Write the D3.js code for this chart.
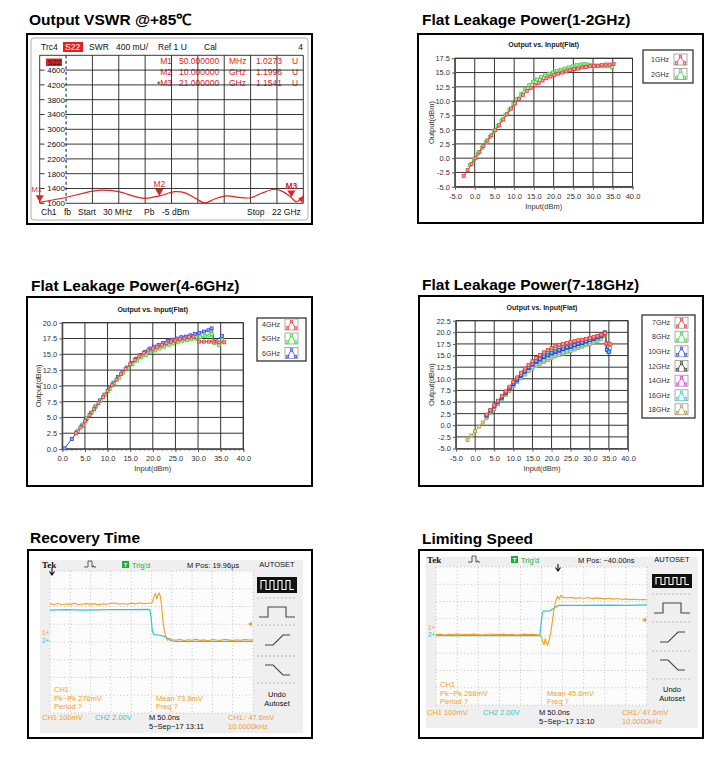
<!DOCTYPE html>
<html lang="en">
<head>
<meta charset="UTF-8">
<title>Limiter test report</title>
<script src="https://cdn.jsdelivr.net/npm/d3@7"></script>
<style>
  body { margin: 0; background: #fff; }
  svg { display: block; font-family: "Liberation Sans", Arial, sans-serif; }
  .title { font-weight: bold; font-size: 15.5px; fill: #000; }
  .box { fill: #fff; stroke: #000; stroke-width: 2; }
  .axis text { font-size: 7.5px; fill: #333; font-family: "Liberation Sans", Arial, sans-serif; }
  .axis path, .axis line { stroke: #555; }
  .grid line { stroke: #333; stroke-width: 1; }
</style>
</head>
<body>
<svg width="727" height="771"></svg>
<script>
// ---- VSWR (S22, +85C) ----
const vswrFreq = [0.03, 2.1, 4.9, 6.6, 8.0, 8.8, 10.0, 11.3, 12.1, 13.0, 13.8, 14.6, 15.6, 16.6, 17.6, 18.5, 19.6, 20.3, 21.0, 21.4, 21.7, 22.0];
const vswrVal = [1027, 1150, 1350, 1315, 1180, 1135, 1200, 1315, 1290, 1135, 1010, 1115, 1200, 1160, 1150, 1270, 1380, 1315, 1154, 1045, 1090, 1200];
const vswrTicks = [1000, 1400, 1800, 2200, 2600, 3000, 3400, 3800, 4200, 4600];
const markNames = ["M1", "M2", "M3"];
const markFreq = [0.03, 10, 21];
const markVal = [1027, 1200, 1154];
const markStim = ["50.000000", "10.000000", "21.000000"];
const markUnit = ["MHz", "GHz", "GHz"];
const markResp = ["1.0273", "1.1996", "1.1541"];

// ---- Flat leakage 1-2 GHz ----
const in1G = [-2.8, -1.8, -0.8, 0.2, 1.2, 2.2, 3.2, 4.2, 5.2, 6.2, 7.2, 8.2, 9.2, 10.2, 11.2, 12.2, 13.2, 14.2, 15.2, 16.2, 17.2, 18.2, 19.2, 20.2, 21.2, 22.2, 23.2, 24.2, 25.2, 26.2, 27.2, 28.2, 29.2, 30.2, 31.2, 32.2, 33.2, 34.2, 35.2];
const out1G = [-3.1, -2.1, -1.0, 0.0, 1.1, 2.1, 3.1, 4.0, 4.9, 5.8, 6.8, 7.7, 8.7, 9.6, 10.4, 11.1, 11.8, 12.3, 12.8, 13.2, 13.6, 14.0, 14.3, 14.6, 14.8, 15.0, 15.2, 15.4, 15.6, 15.7, 15.9, 16.0, 16.1, 16.2, 16.2, 16.3, 16.4, 16.4, 16.5];
const in2G = [-1.2, -0.2, 0.8, 1.8, 2.8, 3.8, 4.8, 5.8, 6.8, 7.8, 8.8, 9.8, 10.8, 11.8, 12.8, 13.8, 14.8, 15.8, 16.8, 17.8, 18.8, 19.8, 20.8, 21.8, 22.8, 23.8, 24.8, 25.8, 26.8, 27.8, 28.8, 29.8, 30.8, 31.8, 32.8, 33.8, 34.8];
const out2G = [-1.2, -0.2, 0.8, 1.8, 2.8, 3.7, 4.7, 5.6, 6.6, 7.6, 8.5, 9.5, 10.4, 11.3, 12.1, 12.8, 13.4, 13.8, 14.2, 14.5, 14.8, 15.0, 15.3, 15.5, 15.7, 15.9, 16.1, 16.3, 16.4, 16.5, 16.4, 16.3, 16.2, 16.2, 16.1, 16.1, 16.0];

// ---- Flat leakage 4-6 GHz ----
const in4G = [3, 4, 5, 6, 7, 8, 9, 10, 11, 12, 13, 14, 15, 16, 17, 18, 19, 20, 21, 22, 23, 24, 25, 26, 27, 28, 29, 30.2, 31.3, 32.4, 33.4, 34.7, 35.8];
const out4G = [2.5, 3.4, 4.4, 5.4, 6.3, 7.3, 8.2, 9.2, 10.1, 11.0, 11.9, 12.7, 13.4, 14.1, 14.7, 15.2, 15.6, 15.9, 16.2, 16.5, 16.8, 17.0, 17.2, 17.4, 17.5, 17.7, 17.8, 17.0, 17.0, 17.0, 17.0, 16.9, 16.9];
const in5G = [3.5, 4.5, 5.5, 6.5, 7.5, 8.5, 9.5, 10.5, 11.5, 12.5, 13.5, 14.5, 15.5, 16.5, 17.5, 18.5, 19.5, 20.5, 21.5, 22.5, 23.5, 24.5, 25.5, 26.5, 27.5, 28.5, 29.5, 30.5, 31.5, 32.5, 33.0, 33.6, 34.6, 35.3];
const out5G = [2.9, 3.9, 4.9, 5.8, 6.8, 7.7, 8.6, 9.5, 10.4, 11.3, 12.1, 12.8, 13.4, 14.0, 14.5, 14.9, 15.3, 15.6, 15.9, 16.2, 16.5, 16.7, 16.9, 17.1, 17.2, 17.4, 17.5, 17.7, 17.9, 18.0, 18.2, 16.8, 16.5, 17.3];
const in6G = [0.5, 2.1, 3.3, 4.3, 5.3, 6.3, 7.3, 8.3, 9.3, 10.3, 11.3, 12.3, 13.3, 14.3, 15.3, 16.3, 17.3, 18.3, 19.3, 20.3, 21.3, 22.3, 23.3, 24.3, 25.3, 26.3, 27.3, 28.3, 29.3, 30.3, 31.3, 32.3, 33.0, 33.6, 35.3];
const out6G = [0.1, 1.6, 2.7, 3.7, 4.7, 5.7, 6.7, 7.7, 8.6, 9.6, 10.5, 11.4, 12.2, 12.9, 13.6, 14.3, 14.9, 15.4, 15.9, 16.2, 16.5, 16.8, 17.1, 17.3, 17.5, 17.7, 17.8, 18.0, 18.2, 18.4, 18.6, 18.8, 19.1, 17.0, 17.9];

// ---- Flat leakage 7-18 GHz ----
const inHF = [3, 4, 5, 6, 7, 8, 9, 10, 11, 12, 13, 14, 15, 16, 17, 18, 19, 20, 21, 22, 23, 24, 25, 26, 27, 28, 29, 30, 31, 32, 33];
const out7G = [2.3, 3.3, 4.3, 5.3, 6.3, 7.3, 8.3, 9.3, 10.3, 11.3, 12.2, 13.0, 13.8, 14.5, 15.1, 15.7, 16.2, 16.6, 17.0, 17.3, 17.5, 17.7, 17.9, 18.1, 18.3, 18.4, 18.6, 18.8, 19.0, 19.2, 19.5];
const out8G = [2.1, 3.1, 4.1, 5.1, 6.1, 7.1, 8.1, 9.1, 10.1, 11.0, 11.9, 12.7, 13.4, 14.1, 14.7, 15.2, 15.7, 16.1, 16.5, 16.8, 17.0, 17.3, 17.5, 17.7, 17.9, 18.1, 18.3, 18.5, 18.8, 19.1, 19.4];
const out10G = [2.2, 3.2, 4.2, 5.1, 6.1, 7.1, 8.0, 9.0, 9.9, 10.8, 11.7, 12.5, 13.2, 13.8, 14.3, 14.8, 15.2, 15.6, 15.9, 16.2, 16.5, 16.8, 17.0, 17.3, 17.6, 17.8, 18.1, 18.4, 18.7, 19.0, 19.3];
const out12G = [2.1, 3.1, 4.1, 5.0, 6.0, 7.0, 7.9, 8.9, 9.8, 10.7, 11.6, 12.4, 13.1, 13.7, 14.2, 14.7, 15.1, 15.5, 15.8, 16.1, 16.4, 16.7, 16.9, 17.2, 17.5, 17.7, 18.0, 18.3, 18.6, 18.9, 19.2];
const out14G = [2.0, 3.0, 4.0, 5.0, 5.9, 6.9, 7.8, 8.8, 9.7, 10.6, 11.5, 12.3, 13.0, 13.6, 14.1, 14.6, 15.0, 15.4, 15.7, 16.0, 16.3, 16.6, 16.9, 17.2, 17.5, 17.8, 18.1, 18.4, 18.7, 19.0, 19.4];
const out16G = [1.9, 2.9, 3.9, 4.8, 5.8, 6.7, 7.7, 8.6, 9.5, 10.4, 11.2, 11.9, 12.5, 13.1, 13.6, 14.1, 14.5, 14.9, 15.2, 15.5, 15.8, 16.1, 16.4, 16.7, 17.0, 17.3, 17.6, 17.9, 18.2, 18.6, 19.0];
// compression tails past the peak
const tail7In = [34.0, 34.3, 35.0, 35.4], tail7Out = [19.8, 17.6, 17.6, 17.4];
const tail8In = [34.0, 34.6, 35.3], tail8Out = [20.0, 17.0, 16.6];
const tail10In = [34.0, 34.5, 35.0], tail10Out = [20.0, 16.2, 15.8];
const tail12In = [34.0, 34.6], tail12Out = [19.8, 16.3];
const tail14In = [33.8, 34.6], tail14Out = [19.9, 17.0];
const tail16In = [34.0, 34.8, 35.2], tail16Out = [19.6, 15.7, 16.0];
const in18G = [-2, -1, 0, 1, 2, 3, 4, 5, 6, 7, 8, 9, 10, 11, 12, 13, 14, 15, 16, 17, 18, 19, 20, 21, 22, 23, 24, 25, 26, 27, 28, 29, 30, 31, 32, 33, 34, 34.8];
const out18G = [-3.2, -2.2, -1.3, -0.3, 0.6, 1.6, 2.6, 3.5, 4.5, 5.5, 6.5, 7.4, 8.4, 9.3, 10.1, 10.9, 11.6, 12.2, 12.7, 13.2, 13.6, 14.0, 14.4, 14.8, 15.1, 15.4, 15.7, 16.0, 16.3, 16.6, 16.9, 17.2, 17.5, 17.8, 18.1, 18.5, 19.2, 16.8];

// ---- scope captures: time in ns, level in divisions ----
const recOrgT = [0, 10, 20, 30, 40, 50, 60, 70, 80, 90, 100, 110, 120, 130, 140, 150, 160, 170, 180, 190, 200, 210, 220, 230, 240, 250, 254, 257, 260, 263, 266, 269, 272, 275, 278, 282, 286, 290, 295, 300, 310, 320, 330, 340, 350, 360, 370, 380, 390, 400, 410, 420, 430, 440, 450, 460, 470, 480, 490, 500];
const recOrgV = [2.15, 2.11, 2.17, 2.10, 2.14, 2.12, 2.18, 2.11, 2.14, 2.16, 2.12, 2.16, 2.09, 2.15, 2.13, 2.18, 2.20, 2.14, 2.17, 2.13, 2.19, 2.15, 2.21, 2.16, 2.18, 2.20, 2.35, 2.65, 2.72, 2.40, 2.68, 2.76, 2.55, 2.00, 1.20, 0.60, 0.25, 0.10, 0.20, 0.14, 0.10, 0.15, 0.08, 0.13, 0.10, 0.16, 0.09, 0.12, 0.07, 0.14, 0.11, 0.09, 0.15, 0.12, 0.08, 0.13, 0.10, 0.15, 0.11, 0.12];
const recCyT = [0, 40, 80, 120, 160, 200, 240, 246, 249, 252, 256, 270, 284, 296, 310, 500];
const recCyV = [1.80, 1.82, 1.80, 1.81, 1.83, 1.82, 1.84, 1.82, 1.40, 0.60, 0.42, 0.38, 0.30, 0.10, 0.03, 0.03];
const limOrgT = [0, 10, 20, 30, 40, 50, 60, 70, 80, 90, 100, 110, 120, 130, 140, 150, 160, 170, 180, 190, 200, 210, 220, 230, 240, 246, 250, 253, 256, 259, 262, 265, 268, 272, 276, 280, 284, 288, 292, 296, 300, 310, 320, 330, 340, 350, 360, 370, 380, 390, 400, 410, 420, 430, 440, 450, 460, 470, 480, 490, 500];
const limOrgV = [0.08, 0.11, 0.06, 0.10, 0.09, 0.12, 0.07, 0.10, 0.08, 0.11, 0.09, 0.06, 0.10, 0.12, 0.08, 0.09, 0.11, 0.07, 0.10, 0.06, 0.09, 0.11, 0.08, 0.10, 0.07, 0.05, -0.05, -0.35, -0.50, -0.15, -0.40, -0.52, -0.25, 0.20, 0.90, 1.60, 2.05, 2.30, 2.15, 2.35, 2.25, 2.20, 2.24, 2.18, 2.22, 2.19, 2.23, 2.17, 2.21, 2.18, 2.15, 2.19, 2.14, 2.17, 2.12, 2.15, 2.11, 2.13, 2.10, 2.12, 2.10];
const limCyT = [0, 246, 249, 252, 255, 270, 280, 290, 300, 350, 400, 450, 500];
const limCyV = [0.02, 0.02, 0.70, 1.35, 1.44, 1.46, 1.62, 1.77, 1.78, 1.77, 1.79, 1.78, 1.80];

const svg = d3.select("svg");

function txt(g, x, y, s, attrs) {
  const t = g.append("text").attr("x", x).attr("y", y).text(s);
  Object.entries(attrs || {}).forEach(([k, v]) => t.attr(k, v));
  return t;
}

// ================= VSWR panel =================
(function () {
  const g = svg.append("g");
  txt(g, 29, 25, "Output VSWR @+85\u2103", { class: "title" });
  g.append("rect").attr("class", "box").attr("x", 27).attr("y", 34).attr("width", 285).attr("height", 190);
  g.append("rect").attr("x", 31).attr("y", 38).attr("width", 277).attr("height", 182).attr("rx", 3)
    .attr("fill", "none").attr("stroke", "#b0b0b0");

  const x = d3.scaleLinear().domain([0.03, 22]).range([39.7, 303.3]);
  const y = d3.scaleLinear().domain([1000, 5000]).range([203.3, 55.3]);
  const f = { "font-size": "8.5px", fill: "#111" };

  // header
  txt(g, 41, 50, "Trc4", f);
  g.append("rect").attr("x", 63).attr("y", 42).attr("width", 20).attr("height", 10).attr("fill", "#e3221f");
  txt(g, 65, 50, "S22", { "font-size": "8.5px", fill: "#fff" });
  txt(g, 89, 50, "SWR", f);
  txt(g, 116, 50, "400 mU/", f);
  txt(g, 158, 50, "Ref 1 U", f);
  txt(g, 204, 50, "Cal", f);
  txt(g, 303, 50, "4", Object.assign({ "text-anchor": "end" }, f));

  // marker readout (behind the grid)
  const red = "#e3221f";
  markNames.forEach((m, i) => {
    const yy = 64 + i * 11;
    txt(g, 172, yy, (i === 2 ? "\u2022" : "") + m, { "font-size": "8.5px", fill: red, "text-anchor": "end" });
    txt(g, 179, yy, markStim[i], { "font-size": "8.5px", fill: red });
    txt(g, 229, yy, markUnit[i], { "font-size": "8.5px", fill: red });
    txt(g, 256, yy, markResp[i], { "font-size": "8.5px", fill: red });
    txt(g, 292, yy, "U", { "font-size": "8.5px", fill: red });
  });

  // grid: 10 x 10 divisions
  const divX = d3.range(11).map(i => x.domain()[0] + i * (x.domain()[1] - x.domain()[0]) / 10);
  const gridY = vswrTicks.concat([5000]);
  const grid = g.append("g").attr("stroke", "#222").attr("stroke-width", 0.9);
  grid.selectAll("line.h").data(gridY).join("line").attr("class", "h")
    .attr("x1", x.range()[0]).attr("x2", x.range()[1]).attr("y1", d => y(d)).attr("y2", d => y(d));
  grid.selectAll("line.v").data(divX.filter((d, i) => i !== 1)).join("line").attr("class", "v")
    .attr("y1", y(5000)).attr("y2", y(1000)).attr("x1", d => x(d)).attr("x2", d => x(d));

  // y labels with white background, then the dashed reference axis
  const lab = g.append("g");
  lab.selectAll("rect").data(vswrTicks).join("rect")
    .attr("x", 44.5).attr("y", d => y(d) - 4).attr("width", 21).attr("height", 8).attr("fill", "#fff");
  lab.selectAll("text").data(vswrTicks).join("text")
    .attr("x", 65).attr("y", d => y(d) + 2.8).attr("text-anchor", "end")
    .attr("font-size", "8px").attr("fill", "#111").text(d => d);
  g.append("line").attr("x1", x(divX[1])).attr("x2", x(divX[1])).attr("y1", y(5000)).attr("y2", y(1000))
    .attr("stroke", "#111").attr("stroke-dasharray", "3,2.5");

  g.append("rect").attr("x", 46).attr("y", 58.5).attr("width", 16).attr("height", 7.5).attr("fill", red);
  txt(g, 47.5, 65, "S22", { "font-size": "7.5px", fill: "#111" });

  // trace
  g.append("path").datum(vswrFreq.map((d, i) => [d, vswrVal[i]]))
    .attr("fill", "none").attr("stroke", red).attr("stroke-width", 1.2)
    .attr("d", d3.line().x(d => x(d[0])).y(d => y(d[1])).curve(d3.curveCatmullRom));

  // markers
  markNames.forEach((m, i) => {
    const px = x(markFreq[i]), py = y(markVal[i]);
    g.append("path").attr("d", `M${px - 4},${py - 7}L${px + 4},${py - 7}L${px},${py}Z`).attr("fill", red);
    txt(g, i === 0 ? px - 3 : px, i === 0 ? py - 10 : py - 9, m,
      { "font-size": i === 0 ? "7.5px" : "8.5px", fill: red, "text-anchor": "middle", "font-weight": i === 2 ? "bold" : "normal" });
  });
  const ex = x(22), ey = y(1000);
  g.append("path").attr("d", `M${ex - 5},${ey - 5}L${ex},${ey - 7}L${ex - 1},${ey}Z`).attr("fill", red);

  // footer
  txt(g, 41, 214.5, "Ch1", f);
  txt(g, 64, 214.5, "fb", f);
  txt(g, 78, 214.5, "Start", f);
  txt(g, 103, 214.5, "30 MHz", f);
  txt(g, 144, 214.5, "Pb", f);
  txt(g, 162, 214.5, "-5 dBm", f);
  txt(g, 247, 214.5, "Stop", f);
  txt(g, 272, 214.5, "22 GHz", f);
})();

// ================= Leakage panels =================
function leakPanel(c) {
  const g = svg.append("g");
  txt(g, c.titleX, c.titleY, c.title, { class: "title" });
  g.append("rect").attr("class", "box").attr("x", c.box[0]).attr("y", c.box[1])
    .attr("width", c.box[2] - c.box[0]).attr("height", c.box[3] - c.box[1]);

  const x = d3.scaleLinear().domain(c.xDom).range([c.l, c.r]);
  const y = d3.scaleLinear().domain(c.yDom).range([c.b, c.t]);

  txt(g, (c.l + c.r) / 2, c.t - 11, "Output vs. Input(Flat)",
    { "font-size": "7px", "font-weight": "bold", "text-anchor": "middle", fill: "#222" });

  const grid = g.append("g").attr("class", "grid");
  grid.selectAll("line.v").data(c.xTicks).join("line").attr("class", "v")
    .attr("x1", d => x(d)).attr("x2", d => x(d)).attr("y1", c.t).attr("y2", c.b);
  grid.selectAll("line.h").data(c.yTicks).join("line").attr("class", "h")
    .attr("y1", d => y(d)).attr("y2", d => y(d)).attr("x1", c.l).attr("x2", c.r);
  g.append("rect").attr("x", c.l).attr("y", c.t).attr("width", c.r - c.l).attr("height", c.b - c.t)
    .attr("fill", "none").attr("stroke", "#333");

  const fmt = d => d.toFixed(1);
  g.append("g").attr("class", "axis").attr("transform", `translate(0,${c.b})`)
    .call(d3.axisBottom(x).tickValues(c.xTicks).tickFormat(fmt).tickSize(3).tickSizeOuter(0).tickPadding(4));
  g.append("g").attr("class", "axis").attr("transform", `translate(0,${c.b})`)
    .call(d3.axisBottom(x).ticks(45).tickFormat("").tickSize(1.5).tickSizeOuter(0));
  g.append("g").attr("class", "axis").attr("transform", `translate(${c.l},0)`)
    .call(d3.axisLeft(y).tickValues(c.yTicks).tickFormat(fmt).tickSize(3).tickSizeOuter(0).tickPadding(2));

  txt(g, (c.l + c.r) / 2, c.b + 22, "Input(dBm)", { "font-size": "7.5px", fill: "#333", "text-anchor": "middle" });
  txt(g, 0, 0, "Output(dBm)", { "font-size": "7.5px", fill: "#333", "text-anchor": "middle",
    transform: `translate(${c.yTitleX},${(c.t + c.b) / 2}) rotate(-90)` });

  const line = d3.line().x(d => x(d[0])).y(d => y(d[1]));
  c.series.forEach(s => {
    const pts = s.x.map((d, i) => [d, s.y[i]]);
    const sg = g.append("g");
    sg.append("path").datum(pts).attr("d", line).attr("fill", "none").attr("stroke", s.color).attr("stroke-width", 1);
    sg.selectAll("rect").data(pts).join("rect")
      .attr("x", d => x(d[0]) - 1.5).attr("y", d => y(d[1]) - 1.5).attr("width", 3).attr("height", 3)
      .attr("fill", s.fill).attr("stroke", s.color).attr("stroke-width", 0.8);
  });

  // legend
  const L = c.legend;
  g.append("rect").attr("x", L.box[0]).attr("y", L.box[1]).attr("width", L.box[2] - L.box[0])
    .attr("height", L.box[3] - L.box[1]).attr("fill", "#fff").attr("stroke", "#222").attr("stroke-width", 1.2);
  c.series.slice().sort((a, b) => a.order - b.order).forEach((s, i) => {
    const cy = L.rows[i];
    txt(g, L.textEnd, cy + 2.5, s.name, { "font-size": "7px", fill: "#333", "text-anchor": "end" });
    g.append("rect").attr("x", L.icon).attr("y", cy - 5.5).attr("width", 13).attr("height", 11)
      .attr("fill", "#fff").attr("stroke", "#888").attr("stroke-width", 0.7);
    const ip = [[L.icon + 2.5, cy + 3.5], [L.icon + 6.5, cy - 3], [L.icon + 10.5, cy + 3.5]];
    g.append("path").attr("d", d3.line()(ip)).attr("fill", "none").attr("stroke", s.color).attr("stroke-width", 0.8);
    ip.forEach(p => g.append("rect").attr("x", p[0] - 1.3).attr("y", p[1] - 1.3).attr("width", 2.6).attr("height", 2.6)
      .attr("fill", s.fill).attr("stroke", s.color).attr("stroke-width", 0.6));
  });
}

const cRed = "#e8393b", fRed = "#f7a0a0";
const cGrn = "#3fd23f", fGrn = "#a6f5a6";
const cBlu = "#2d45e6", fBlu = "#9eaaf5";
const cBlk = "#333333", fBlk = "#aaaaaa";
const cMag = "#e82ee8", fMag = "#f5a6f5";
const cCyn = "#26d4dc", fCyn = "#a6f0f5";
const cOlv = "#a89e45", fOlv = "#ddd6a0";

leakPanel({
  title: "Flat Leakage Power(1-2GHz)", titleX: 422, titleY: 25,
  box: [418, 34, 703, 223],
  l: 455, r: 632.5, t: 58.3, b: 186.7, yTitleX: 434,
  xDom: [-5, 40], yDom: [-5, 17.5],
  xTicks: [-5, 0, 5, 10, 15, 20, 25, 30, 35, 40],
  yTicks: [-5, -2.5, 0, 2.5, 5, 7.5, 10, 12.5, 15, 17.5],
  series: [
    { name: "2GHz", x: in2G, y: out2G, color: cGrn, fill: fGrn, order: 1 },
    { name: "1GHz", x: in1G, y: out1G, color: cRed, fill: fRed, order: 0 }
  ],
  legend: { box: [643, 50, 693, 83], rows: [59.5, 74], textEnd: 669, icon: 674 }
});

leakPanel({
  title: "Flat Leakage Power(4-6GHz)", titleX: 31, titleY: 291,
  box: [27, 297, 312, 486],
  l: 62.3, r: 243.3, t: 322.7, b: 449, yTitleX: 41,
  xDom: [0, 40], yDom: [0, 20],
  xTicks: [0, 5, 10, 15, 20, 25, 30, 35, 40],
  yTicks: [0, 2.5, 5, 7.5, 10, 12.5, 15, 17.5, 20],
  series: [
    { name: "6GHz", x: in6G, y: out6G, color: cBlu, fill: fBlu, order: 2 },
    { name: "5GHz", x: in5G, y: out5G, color: cGrn, fill: fGrn, order: 1 },
    { name: "4GHz", x: in4G, y: out4G, color: cRed, fill: fRed, order: 0 }
  ],
  legend: { box: [257, 318, 306, 361], rows: [324.5, 338.5, 353], textEnd: 280, icon: 285 }
});

leakPanel({
  title: "Flat Leakage Power(7-18GHz)", titleX: 422, titleY: 290,
  box: [419, 296, 703, 486],
  l: 456, r: 628, t: 320.7, b: 448.5, yTitleX: 434,
  xDom: [-5, 40], yDom: [-5, 22.5],
  xTicks: [-5, 0, 5, 10, 15, 20, 25, 30, 35, 40],
  yTicks: [-5, -2.5, 0, 2.5, 5, 7.5, 10, 12.5, 15, 17.5, 20, 22.5],
  series: [
    { name: "18GHz", x: in18G, y: out18G, color: cOlv, fill: fOlv, order: 6 },
    { name: "16GHz", x: inHF.concat(tail16In), y: out16G.concat(tail16Out), color: cCyn, fill: fCyn, order: 5 },
    { name: "14GHz", x: inHF.concat(tail14In), y: out14G.concat(tail14Out), color: cMag, fill: fMag, order: 4 },
    { name: "12GHz", x: inHF.concat(tail12In), y: out12G.concat(tail12Out), color: cBlk, fill: fBlk, order: 3 },
    { name: "8GHz", x: inHF.concat(tail8In), y: out8G.concat(tail8Out), color: cGrn, fill: fGrn, order: 1 },
    { name: "10GHz", x: inHF.concat(tail10In), y: out10G.concat(tail10Out), color: cBlu, fill: fBlu, order: 2 },
    { name: "7GHz", x: inHF.concat(tail7In), y: out7G.concat(tail7Out), color: cRed, fill: fRed, order: 0 }
  ],
  legend: { box: [642, 315, 695, 418], rows: [322.7, 336.7, 351.3, 366, 380.7, 395.3, 409.3], textEnd: 670, icon: 675 }
});

// ================= Oscilloscope panels =================
const orange = "#f3a01e", cyan = "#33c4cf";

function scopePanel(c) {
  const g = svg.append("g");
  txt(g, c.titleX, c.titleY, c.title, { class: "title" });
  g.append("rect").attr("class", "box").attr("x", c.box[0]).attr("y", c.box[1])
    .attr("width", c.box[2] - c.box[0]).attr("height", c.box[3] - c.box[1]);
  g.append("rect").attr("x", c.screen[0]).attr("y", c.screen[1]).attr("width", c.screen[2] - c.screen[0])
    .attr("height", c.screen[3] - c.screen[1]).attr("fill", "#efefef");
  const [gx0, gy0, gx1, gy1] = c.grid;
  g.append("rect").attr("x", gx0).attr("y", gy0).attr("width", gx1 - gx0).attr("height", gy1 - gy0).attr("fill", "#fcfcfc");

  const x = d3.scaleLinear().domain([0, 500]).range([gx0, gx1]);
  const y = d3.scaleLinear().domain([-4, 4]).range([gy1, gy0]);

  const gr = g.append("g").attr("stroke", "#b8b8b8").attr("stroke-width", 0.8).attr("stroke-dasharray", "1,2.5");
  gr.selectAll("line.v").data(d3.range(0, 501, 50)).join("line").attr("class", "v")
    .attr("x1", d => x(d)).attr("x2", d => x(d)).attr("y1", gy0).attr("y2", gy1);
  gr.selectAll("line.h").data(d3.range(-4, 5, 1)).join("line").attr("class", "h")
    .attr("y1", d => y(d)).attr("y2", d => y(d)).attr("x1", gx0).attr("x2", gx1);

  const f = { "font-size": "7.5px" };
  // top bar
  txt(g, c.tek[0], c.tek[1], "Tek", { "font-size": "9px", "font-weight": "bold", "font-family": "Liberation Serif, serif", fill: "#111" });
  const px = c.pulse, pyb = c.tek[1] - 1;
  g.append("path").attr("d", `M${px},${pyb}H${px + 4}V${pyb - 6}H${px + 8}V${pyb}H${px + 9}V${pyb - 1}H${px + 10}V${pyb}H${px + 12}`)
    .attr("fill", "none").attr("stroke", "#333").attr("stroke-width", 0.8);
  g.append("rect").attr("x", c.trig).attr("y", c.tek[1] - 7).attr("width", 7).attr("height", 7).attr("fill", "#1faa3a");
  txt(g, c.trig + 3.5, c.tek[1] - 1, "T", { "font-size": "6px", fill: "#fff", "text-anchor": "middle", "font-weight": "bold" });
  txt(g, c.trig + 10, c.tek[1], "Trig'd", Object.assign({ fill: "#1faa3a" }, f));
  txt(g, c.mpos, c.tek[1], c.mposText, Object.assign({ fill: "#111" }, f));
  txt(g, c.menu.cx, c.menu.autoY, "AUTOSET", Object.assign({ fill: "#111", "text-anchor": "middle" }, f));

  // trigger position marker
  const tx = c.trigMark[0], ty = c.trigMark[1];
  g.append("path").attr("d", `M${tx},${ty - 4}V${ty + 2}M${tx - 2.5},${ty - 0.5}L${tx},${ty + 3}L${tx + 2.5},${ty - 0.5}`)
    .attr("fill", "none").attr("stroke", "#111").attr("stroke-width", 1.1);

  // channel ground markers and trigger level arrow
  txt(g, c.screen[0] + 2, c.gnd1, "1+", { "font-size": "6.5px", fill: orange });
  txt(g, c.screen[0] + 2, c.gnd2, "2+", { "font-size": "6.5px", fill: cyan });
  g.append("path").attr("d", `M${gx1 - 5},${c.lvl}L${gx1 - 1},${c.lvl - 2.5}V${c.lvl + 2.5}Z`).attr("fill", orange);

  // traces
  const line = d3.line().x(d => x(d[0])).y(d => y(d[1]));
  g.append("path").datum(c.cyT.map((d, i) => [d, c.cyV[i]])).attr("d", line)
    .attr("fill", "none").attr("stroke", cyan).attr("stroke-width", 1.2);
  g.append("path").datum(c.orT.map((d, i) => [d, c.orV[i]])).attr("d", line)
    .attr("fill", "none").attr("stroke", orange).attr("stroke-width", 1.1);

  // measurement readout
  const m = c.meas;
  txt(g, m[0], m[1], "CH1", Object.assign({ fill: orange }, f));
  txt(g, m[0], m[1] + 8.5, "Pk\u2212Pk " + c.pkpk, Object.assign({ fill: orange }, f));
  txt(g, m[0], m[1] + 17, "Period ?", Object.assign({ fill: orange }, f));
  txt(g, m[2], m[1] + 8.5, "Mean " + c.mean, Object.assign({ fill: orange }, f));
  txt(g, m[2], m[1] + 17, "Freq ?", Object.assign({ fill: orange }, f));

  // bottom status
  const b = c.bottom;
  txt(g, b[0], b[1], "CH1  100mV", Object.assign({ fill: orange }, f));
  txt(g, b[2], b[1], "CH2  2.00V", Object.assign({ fill: cyan }, f));
  txt(g, b[3], b[1], "M 50.0ns", Object.assign({ fill: "#111" }, f));
  txt(g, b[3], b[1] + 8.5, c.date, Object.assign({ fill: "#111" }, f));
  txt(g, b[4], b[1], "CH1 \u2215 47.6mV", Object.assign({ fill: orange }, f));
  txt(g, b[4], b[1] + 8.5, "10.0000kHz", Object.assign({ fill: orange }, f));

  // right-hand menu
  const M = c.menu, mx0 = M.cx - 20, mx1 = M.cx + 20;
  g.append("rect").attr("x", mx0).attr("y", M.box[0]).attr("width", 40).attr("height", M.box[1] - M.box[0]).attr("fill", "#111");
  const yb = M.box[1] - 3.5, yt = M.box[0] + 3.5;
  let sq = `M${mx0 + 4},${yb}`;
  [0, 1, 2, 3].forEach(i => {
    const s = mx0 + 5 + i * 8;
    sq += `V${yt}H${s + 4}V${yb}H${s + 8}`;
  });
  g.append("path").attr("d", sq).attr("fill", "none").attr("stroke", "#fff").attr("stroke-width", 1.1);
  g.append("g").attr("stroke", "#bbb").attr("stroke-dasharray", "2,2").selectAll("line").data(M.seps).join("line")
    .attr("x1", mx0).attr("x2", mx1).attr("y1", d => d).attr("y2", d => d);
  const ic = M.icons, st = { fill: "none", stroke: "#444", "stroke-width": 1.1 };
  const icon = d => { const p = g.append("path").attr("d", d); Object.entries(st).forEach(([k, v]) => p.attr(k, v)); };
  icon(`M${mx0 + 2},${ic[0] + 5}H${mx0 + 11}V${ic[0] - 5}H${mx0 + 29}V${ic[0] + 5}H${mx1 - 2}`);
  icon(`M${mx0 + 8},${ic[1] + 5}H${mx0 + 16}L${mx0 + 26},${ic[1] - 5}H${mx0 + 33}`);
  icon(`M${mx0 + 8},${ic[2] - 5}H${mx0 + 16}L${mx0 + 26},${ic[2] + 5}H${mx0 + 33}`);
  txt(g, M.cx, M.undo, "Undo", Object.assign({ fill: "#111", "text-anchor": "middle" }, f));
  txt(g, M.cx, M.undo + 9, "Autoset", Object.assign({ fill: "#111", "text-anchor": "middle" }, f));
}

scopePanel({
  title: "Recovery Time", titleX: 30, titleY: 543,
  box: [28, 550, 312, 738], screen: [40, 560, 303, 733], grid: [50, 571, 253, 713],
  tek: [42, 568], pulse: 84, trig: 122, mpos: 187, mposText: "M Pos: 19.96\u00b5s",
  trigMark: [52, 572], gnd1: 635, gnd2: 643, lvl: 624,
  orT: recOrgT, orV: recOrgV, cyT: recCyT, cyV: recCyV,
  meas: [54, 692, 156], pkpk: "276mV", mean: "73.9mV",
  bottom: [42, 720, 95, 149, 228], date: "5\u2212Sep\u221217 13:11",
  menu: { cx: 277, autoY: 567, box: [577, 593], seps: [598, 625, 656, 683], icons: [612, 640, 670], undo: 697 }
});

scopePanel({
  title: "Limiting Speed", titleX: 422, titleY: 544,
  box: [419, 550, 703, 738], screen: [426, 557, 698, 728], grid: [436, 567, 647, 705],
  tek: [427, 563], pulse: 468, trig: 511, mpos: 578, mposText: "M Pos: \u221240.00ns",
  trigMark: [558, 568], gnd1: 630, gnd2: 637, lvl: 620,
  orT: limOrgT, orV: limOrgV, cyT: limCyT, cyV: limCyV,
  meas: [440, 687, 547], pkpk: "268mV", mean: "45.8mV",
  bottom: [427, 715, 483, 539, 622], date: "5\u2212Sep\u221217 13:10",
  menu: { cx: 672, autoY: 562, box: [574, 588], seps: [594, 622, 651, 679], icons: [608, 637, 665], undo: 692 }
});
</script>
</body>
</html>
